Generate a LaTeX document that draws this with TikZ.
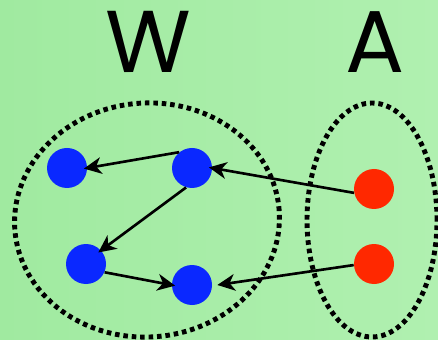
\documentclass[tikz,border=0pt]{standalone}
\usepackage{fontspec}
\setmainfont{Poppins}
\usepackage{xcolor}
\usetikzlibrary{shapes.geometric}
\usetikzlibrary{arrows.meta}
\definecolor{bgl}{RGB}{160,234,160}
\definecolor{bgr}{RGB}{176,240,176}
\definecolor{wblue}{RGB}{10,40,255}
\definecolor{ared}{RGB}{255,40,0}
\tikzset{wn/.style={circle,fill=wblue,minimum size=40*0.02cm,inner sep=0pt}}
\tikzset{an/.style={circle,fill=ared,minimum size=40*0.02cm,inner sep=0pt}}
\tikzset{grp/.style={draw,ellipse,line width=2.8pt,dash pattern=on 2.6pt off 2.2pt,inner sep=0pt}}
\tikzset{ma/.style={-{Stealth[length=10pt,width=9.5pt,inset=3pt]},line width=1.5pt,shorten >=-2pt}}

\begin{document}
\begin{tikzpicture}[x=0.02cm,y=-0.02cm]
\shade[left color=bgl,right color=bgr] (0,0) rectangle (438,340);
\useasboundingbox (0,0) rectangle (438,340);

% set labels
\node (lw) at (148,42) {\fontsize{50}{50}\selectfont W};
\node (la) at (375,42) {\fontsize{50}{50}\selectfont A};

% dotted groups
\node [grp, rotate=4, minimum width=265*0.02cm, minimum height=234*0.02cm] (wset) at (147,220) {};
\node [grp, minimum width=130*0.02cm, minimum height=234*0.02cm] (aset) at (372,220) {};

% W members
\node [wn] (w1) at (67,168) {};
\node [wn] (w2) at (192,168) {};
\node [wn] (w3) at (86,264) {};
\node [wn] (w4) at (192,285) {};

% A members
\node [an] (a1) at (374,189) {};
\node [an] (a2) at (374,264) {};

\draw [ma] (w2.129) -- (w1.east);
\draw [ma] (w2.253) -- (w3.42);
\draw [ma] (w3.336) -- (w4.west);
\draw [ma] (a1.191) -- (w2.east);
\draw [ma, shorten >=0pt] (a2.183) -- ([xshift=5*0.02cm]w4.east);
\end{tikzpicture}
\end{document}
